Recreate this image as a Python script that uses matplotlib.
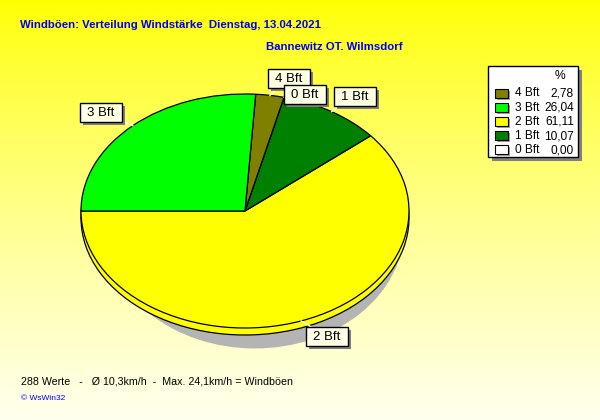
import numpy as np
import matplotlib
matplotlib.use('Agg')
import matplotlib.pyplot as plt
from matplotlib.patches import Rectangle, Ellipse

categories = ['4 Bft', '3 Bft', '2 Bft', '1 Bft', '0 Bft']
percents = [2.78, 26.04, 61.11, 10.07, 0.00]
value_labels = ['2,78', '26,04', '61,11', '10,07', '0,00']
colors = ['#808000', '#00FF00', '#FFFF00', '#008000', '#FFFFFF']
pie_order = ['2 Bft', '1 Bft', '0 Bft', '4 Bft', '3 Bft']
title = 'Windböen: Verteilung Windstärke  Dienstag, 13.04.2021'
subtitle = 'Bannewitz OT. Wilmsdorf'
footer = '288 Werte   -   Ø 10,3km/h  -  Max. 24,1km/h = Windböen'
credit = '© WsWin32'

plt.rcParams['font.family'] = ['Liberation Sans', 'DejaVu Sans']

W, H = 600, 420
fig = plt.figure(figsize=(6, 4.2), dpi=100)

# background gradient
bg = fig.add_axes([0, 0, 1, 1], zorder=0)
bg.axis('off')
t = np.linspace(0, 1, 256)
top = np.array([1.0, 1.0, 0.0])
bot = np.array([1.0, 1.0, 0.94])
g = top + (bot - top) * (t[:, None] ** 0.8)
bg.imshow(g[:, None, :], aspect='auto', extent=[0, 1, 0, 1], origin='upper')

# pie axes (elliptical)
cx, cy, rx, ry = 245, 211, 164, 117
L = 1.4
depth = 7 / ry
pax = fig.add_axes([(cx - L * rx) / W, (H - cy - L * ry) / H, 2 * L * rx / W, 2 * L * ry / H], zorder=1)

vals = [percents[categories.index(c)] for c in pie_order]
cols = [colors[categories.index(c)] for c in pie_order]

pax.add_patch(Ellipse((0.06, -0.15), 1.82, 2.05, facecolor='#B4B4B4', edgecolor='none', zorder=0))
pax.pie(vals, colors=cols, startangle=180, counterclock=True, center=(0, -depth),
        wedgeprops=dict(edgecolor='black', linewidth=0.9))
pax.pie(vals, colors=cols, startangle=180, counterclock=True,
        wedgeprops=dict(edgecolor='black', linewidth=0.9))
pax.set_aspect('auto')
pax.set_xlim(-L, L)
pax.set_ylim(-L, L)
pax.axis('off')

# overlay in pixel coordinates
ov = fig.add_axes([0, 0, 1, 1], zorder=2)
ov.set_xlim(0, W)
ov.set_ylim(H, 0)
ov.axis('off')
ov.patch.set_alpha(0)

# mid angles
total = sum(vals)
ang = 180.0
mids = {}
for c, v in zip(pie_order, vals):
    mids[c] = ang + 360 * v / total / 2
    ang += 360 * v / total

label_pos = {'3 Bft': (101, 112), '4 Bft': (289, 78), '0 Bft': (305, 94),
             '1 Bft': (355, 96), '2 Bft': (327, 336)}
bw, bh = 42, 19
for c in ['3 Bft', '2 Bft', '1 Bft', '4 Bft', '0 Bft']:
    x, y = label_pos[c]
    a = np.deg2rad(mids[c])
    px, py = cx + rx * np.cos(a), cy - ry * np.sin(a)
    ov.plot([px, x], [py, y], color='white', lw=1, zorder=1)
    ov.add_patch(Rectangle((x - bw / 2 + 3, y - bh / 2 + 3), bw, bh, facecolor='#808080', edgecolor='none', zorder=2))
    ov.add_patch(Rectangle((x - bw / 2, y - bh / 2), bw, bh, facecolor='#FFFFE6', edgecolor='black', lw=1, zorder=3))
    ov.text(x, y + 0.5, c, ha='center', va='center', fontsize=9.5, color='black', zorder=4)

# legend
lx0, ly0, lx1, ly1 = 488, 66, 578, 157
ov.add_patch(Rectangle((lx0 + 4, ly0 + 4), lx1 - lx0, ly1 - ly0, facecolor='#808080', edgecolor='none', zorder=2))
ov.add_patch(Rectangle((lx0, ly0), lx1 - lx0, ly1 - ly0, facecolor='white', edgecolor='black', lw=1, zorder=3))
ov.text(560, 76, '%', ha='center', va='center', fontsize=8.7, zorder=4)
for i, (c, col, vl) in enumerate(zip(categories, colors, value_labels)):
    y = 93 + i * 14.2
    ov.add_patch(Rectangle((495 + 2, y - 4.5 + 2), 13, 9, facecolor='#A0A0A0', edgecolor='none', zorder=4))
    ov.add_patch(Rectangle((495, y - 4.5), 13, 9, facecolor=col, edgecolor='black', lw=0.8, zorder=5))
    ov.text(515, y + 0.5, c, ha='left', va='center', fontsize=8.6, zorder=5)
    ov.text(574, y + 0.5, vl, ha='right', va='center', fontsize=8.6, zorder=5)

# titles
ov.text(20, 25, title, ha='left', va='center', fontsize=8.2, fontweight='bold', color='#0000F0')
ov.text(266, 47, subtitle, ha='left', va='center', fontsize=8.2, fontweight='bold', color='#0000F0')
ov.text(21, 382, footer, ha='left', va='center', fontsize=7.7, color='black')
ov.text(21, 398, credit, ha='left', va='center', fontsize=6, color='#0000F0')

fig.savefig('out.png', dpi=100)
